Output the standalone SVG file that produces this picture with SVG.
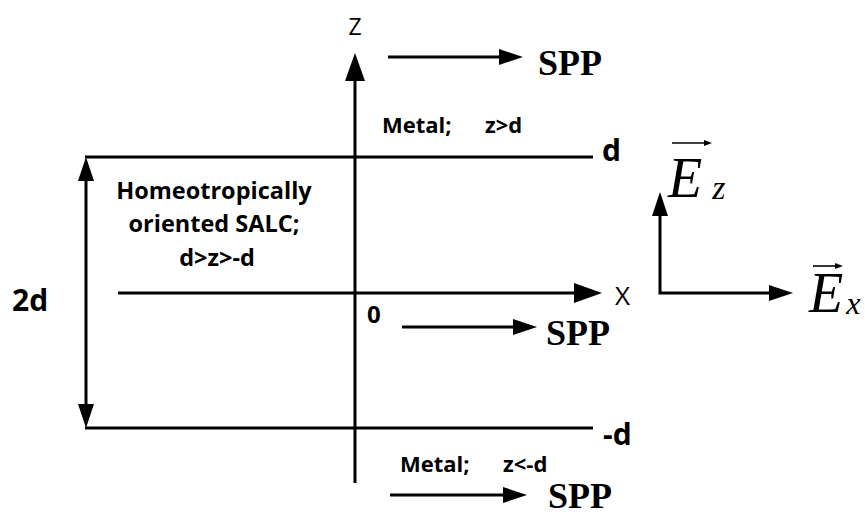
<svg xmlns="http://www.w3.org/2000/svg" width="865" height="515" viewBox="0 0 865 515">
  <style>
    .ln { stroke: #000; stroke-width: 3; fill: none; }
    .thin { stroke: #000; stroke-width: 1.6; fill: none; }
    .sans { font-family: "Open Sans", "Liberation Sans", sans-serif; fill: #000; }
    .b { font-weight: bold; }
    .spp { font-family: "Liberation Serif", "Times New Roman", serif; font-weight: bold; font-size: 36px; fill: #000; }
    .ev { font-family: "Liberation Serif", "Times New Roman", serif; font-style: italic; fill: #000; }
  </style>
  <defs>
    <marker id="big" viewBox="0 0 28 20" refX="18" refY="10" markerWidth="28" markerHeight="20" markerUnits="userSpaceOnUse" orient="auto-start-reverse">
      <path d="M0,0 L28,10 L0,20 z" fill="#000"/>
    </marker>
    <marker id="sm" viewBox="0 0 24 16" refX="14" refY="8" markerWidth="24" markerHeight="16" markerUnits="userSpaceOnUse" orient="auto-start-reverse">
      <path d="M0,0 L24,8 L0,16 z" fill="#000"/>
    </marker>
    <marker id="tiny" viewBox="0 0 8 6" refX="4" refY="3" markerWidth="8" markerHeight="6" markerUnits="userSpaceOnUse" orient="auto">
      <path d="M0,0 L8,3 L0,6 z" fill="#000"/>
    </marker>
  </defs>

  <g id="connectors">
    <line id="line-d" class="ln" x1="85" y1="157" x2="593" y2="157"/>
    <line id="line-minus-d" class="ln" x1="85" y1="428" x2="593" y2="428"/>
    <line id="axis-z" class="ln" x1="355" y1="483" x2="355" y2="63" marker-end="url(#big)"/>
    <line id="axis-x" class="ln" x1="118" y1="293" x2="592" y2="293" marker-end="url(#big)"/>
    <line id="arrow-2d" class="ln" x1="86" y1="167" x2="86" y2="418" marker-start="url(#sm)" marker-end="url(#sm)"/>
    <line id="spp-top-arrow" class="ln" x1="388" y1="57" x2="513" y2="57" marker-end="url(#sm)"/>
    <line id="spp-mid-arrow" class="ln" x1="402" y1="327" x2="527" y2="327" marker-end="url(#sm)"/>
    <line id="spp-bot-arrow" class="ln" x1="390" y1="495" x2="517" y2="495" marker-end="url(#sm)"/>
    <path id="e-axes" class="ln" d="M660,202 L660,293 L783,293" marker-start="url(#sm)" marker-end="url(#sm)"/>
    <line id="vec-ez" class="thin" x1="672" y1="143" x2="708" y2="143" marker-end="url(#tiny)"/>
    <line id="vec-ex" class="thin" x1="813" y1="266" x2="839" y2="266" marker-end="url(#tiny)"/>
  </g>

  <g id="label-z"><text class="sans" x="355" y="35" font-size="23" text-anchor="middle">Z</text></g>
  <g id="label-x"><text class="sans" x="615" y="305" font-size="26">X</text></g>
  <g id="label-d"><text class="sans b" x="602" y="161" font-size="30">d</text></g>
  <g id="label-minus-d"><text class="sans b" x="603" y="445" font-size="30">-d</text></g>
  <g id="label-2d"><text class="sans b" x="12" y="311" font-size="30">2d</text></g>
  <g id="label-0"><text class="sans b" x="367" y="323" font-size="24">0</text></g>

  <g id="metal-top">
    <text class="sans b" y="133" font-size="22"><tspan x="382">Metal;</tspan><tspan x="485">z&gt;d</tspan></text>
  </g>
  <g id="metal-bottom">
    <text class="sans b" y="472" font-size="22"><tspan x="400">Metal;</tspan><tspan x="503">z&lt;-d</tspan></text>
  </g>

  <g id="salc">
    <text class="sans b" font-size="23.5" text-anchor="middle">
      <tspan x="217" y="199">Homeotropically</tspan>
      <tspan x="217" y="232">oriented SALC;</tspan>
      <tspan x="217" y="266">d&gt;z&gt;-d</tspan>
    </text>
  </g>

  <g id="spp-top"><text class="spp" x="538" y="75">SPP</text></g>
  <g id="spp-mid"><text class="spp" x="546" y="345">SPP</text></g>
  <g id="spp-bot"><text class="spp" x="548" y="508">SPP</text></g>

  <g id="ez"><text class="ev" x="668" y="197" font-size="56">E<tspan font-size="34" dx="10" dy="2">z</tspan></text></g>
  <g id="ex"><text class="ev" x="809" y="312" font-size="56">E<tspan font-size="32" dx="3" dy="2">x</tspan></text></g>
</svg>
